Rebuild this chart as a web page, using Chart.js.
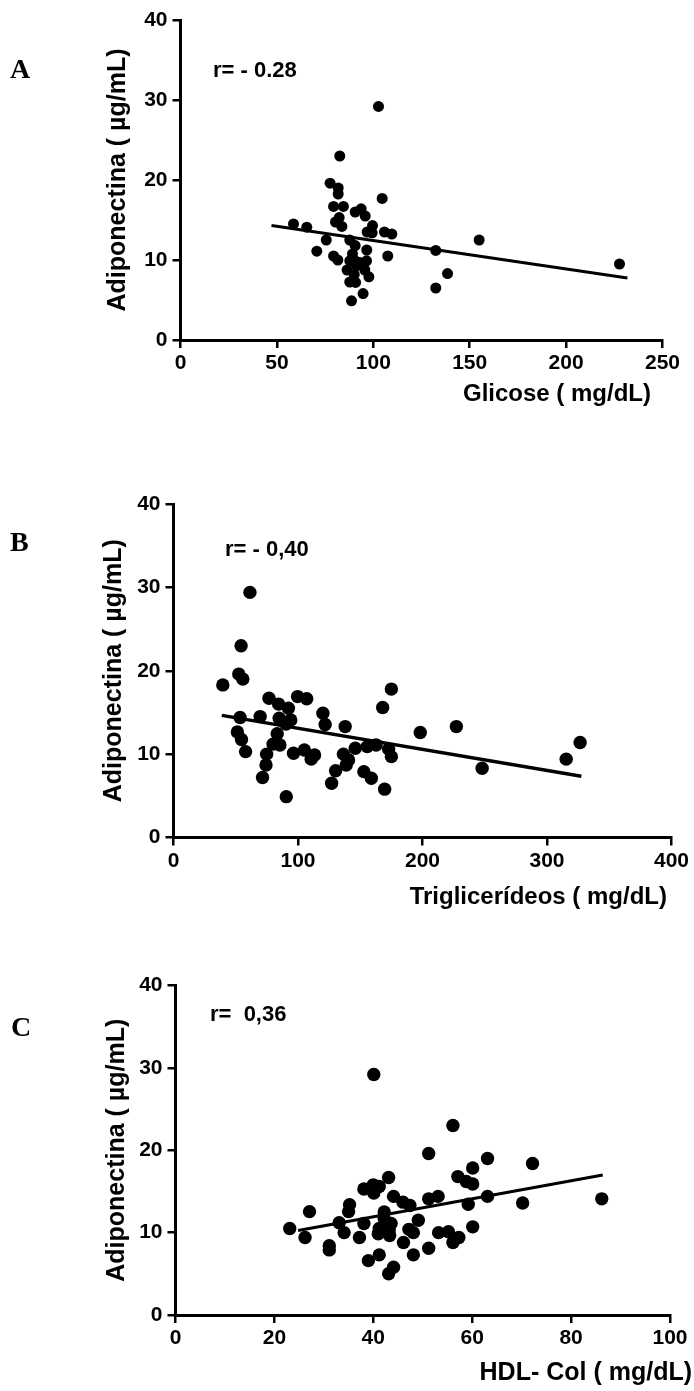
<!DOCTYPE html>
<html>
<head>
<meta charset="utf-8">
<script src="https://cdn.jsdelivr.net/npm/chart.js@4.4.0/dist/chart.umd.min.js"></script>
<style>
  body { margin: 0; background: #fff; }
  #page { position: relative; width: 694px; height: 1391px; overflow: hidden; background: #fff; }
  canvas { position: absolute; left: 0; }
  .txt { position: absolute; font-family: "Liberation Sans", Arial, sans-serif; font-weight: bold; color: #000; white-space: pre; line-height: 1; transform: translateY(-50%); }
  .letter { position: absolute; font-family: "Liberation Serif", "Times New Roman", serif; font-weight: bold; font-size: 28px; color: #000; line-height: 1; transform: translateY(-50%); }
  .xt { text-align: right; }
</style>
</head>
<body>
<div id="page">
  <canvas id="chartA" width="694" height="440" style="top:0px"></canvas>
  <canvas id="chartB" width="694" height="460" style="top:460px"></canvas>
  <canvas id="chartC" width="694" height="451" style="top:940px"></canvas>

  <div class="letter" style="left:10px; top:69px">A</div>
  <div class="letter" style="left:10px; top:542px">B</div>
  <div class="letter" style="left:11px; top:1027px">C</div>

  <div class="txt" style="left:213px; top:70px; font-size:22px">r= - 0.28</div>
  <div class="txt" style="left:225px; top:549px; font-size:22px">r= - 0,40</div>
  <div class="txt" style="left:210px; top:1014px; font-size:22px">r=  0,36</div>

  <div class="txt xt" style="right:43px; top:393px; font-size:24px">Glicose ( mg/dL)</div>
  <div class="txt xt" style="right:27px; top:896px; font-size:24px">Triglicerídeos ( mg/dL)</div>
  <div class="txt xt" style="right:2px; top:1371px; font-size:25px">HDL- Col ( mg/dL)</div>
</div>
<script>
/* ---- values ---- */

// A: glicose vs adiponectina
const glicose = [102.7, 82.6, 77.6, 81.8, 81.8, 104.6, 79.4, 84.5, 90.6, 93.7, 95.8, 82.3, 80.4, 83.7, 58.6, 65.5,
  99.6, 96.8, 99.4, 105.8, 109.6, 75.6, 87.8, 154.9, 90.6, 96.6, 132.4, 70.7, 79.4, 81.6, 107.5, 89.2,
  87.8, 90.6, 93.0, 96.5, 91.3, 86.4, 95.6, 90.1, 97.7, 87.8, 90.8, 227.7, 138.5, 132.4, 94.7, 88.7];
const adipoA = [29.2, 23.0, 19.6, 19.0, 18.25, 17.7, 16.7, 16.7, 16.0, 16.4, 15.5, 15.3, 14.75, 14.2, 14.5, 14.1,
  14.3, 13.5, 13.4, 13.5, 13.25, 12.5, 12.5, 12.5, 11.8, 11.25, 11.2, 11.1, 10.5, 10.0, 10.5, 10.75,
  9.9, 9.9, 9.7, 9.9, 9.3, 8.75, 8.75, 8.2, 7.9, 7.25, 7.2, 9.5, 8.3, 6.5, 5.8, 4.9];
const fitXA = [47.2, 231.8];
const fitYA = [14.3, 7.75];

// B: triglicerideos vs adiponectina
const triglic = [61.4, 54.3, 52.4, 55.7, 39.6, 175.0, 76.7, 99.7, 107.0, 84.4, 92.3, 168.0, 120.0, 53.5, 69.6, 84.9,
  94.2, 90.4, 121.8, 137.9, 227.2, 51.3, 83.3, 198.2, 54.6, 326.6, 80.0, 85.5, 146.0, 155.6, 162.7, 172.8,
  57.9, 74.8, 96.4, 105.1, 113.3, 136.5, 175.0, 110.6, 140.6, 315.4, 74.3, 138.7, 130.2, 152.9, 247.9, 71.5,
  158.9, 127.0, 169.6, 90.6];
const adipoB = [29.4, 23.0, 19.6, 19.0, 18.3, 17.8, 16.7, 16.9, 16.65, 16.0, 15.5, 15.6, 14.9, 14.4, 14.5, 14.3,
  14.1, 13.6, 13.55, 13.3, 13.3, 12.65, 12.45, 12.6, 11.75, 11.4, 11.2, 11.1, 10.7, 10.9, 11.1, 10.6,
  10.3, 10.0, 10.1, 10.5, 9.9, 10.0, 9.7, 9.4, 9.3, 9.4, 8.7, 8.7, 8.0, 7.9, 8.3, 7.2,
  7.1, 6.5, 5.8, 4.9];
const fitXB = [38.8, 327.6];
const fitYB = [14.65, 7.35];

// C: HDL-col vs adiponectina
const hdl = [40.1, 56.1, 51.2, 63.1, 72.2, 60.1, 43.1, 57.1, 58.8, 60.1, 40.0, 41.2, 38.1, 40.1, 44.1, 63.1,
  51.2, 53.1, 86.2, 70.2, 46.0, 47.4, 59.2, 35.2, 35.0, 27.1, 42.2, 42.2, 49.1, 33.1, 38.1, 43.6,
  23.1, 41.2, 47.2, 60.1, 43.2, 48.1, 34.1, 53.2, 55.2, 41.0, 43.3, 26.2, 37.2, 57.3, 56.1, 46.1,
  31.1, 31.1, 51.2, 41.2, 48.1, 39.0, 44.1, 43.1];
const adipoC = [29.2, 23.0, 19.6, 19.0, 18.4, 17.85, 16.7, 16.8, 16.2, 15.9, 15.8, 15.6, 15.3, 14.8, 14.4, 14.4,
  14.1, 14.4, 14.1, 13.6, 13.7, 13.3, 13.45, 13.4, 12.55, 12.55, 12.5, 11.7, 11.5, 11.2, 11.1, 11.1,
  10.5, 10.5, 10.4, 10.7, 10.3, 10.0, 10.0, 10.0, 10.1, 9.85, 9.65, 9.4, 9.4, 9.4, 8.8, 8.8,
  8.4, 7.9, 8.1, 7.3, 7.3, 6.6, 5.8, 5.0];
const fitXC = [24.8, 86.4];
const fitYC = [10.25, 17.0];

// tick labels
const yTicks = [0, 10, 20, 30, 40];
const xTicksA = [0, 50, 100, 150, 200, 250];
const xTicksB = [0, 100, 200, 300, 400];
const xTicksC = [0, 20, 40, 60, 80, 100];

const yTitle = "Adiponectina ( \u00b5g/mL)";

/* ---- helpers ---- */

const FONT = '"Liberation Sans", Arial, sans-serif';
const pts = (xs, ys) => xs.map((x, i) => ({ x: x, y: ys[i] }));

const axisStyle = () => ({
  grid: { display: true, drawOnChartArea: false, drawTicks: true, tickLength: 8, color: "#000", lineWidth: 2.5 },
  border: { display: true, color: "#000", width: 3 },
});

// p.area = chart area in page pixels, p.top = canvas top on the page
const makePanel = (p) => {
  const cv = document.getElementById(p.id);
  const areaTop = p.area.top - p.top;
  const areaBottom = p.area.bottom - p.top;
  return new Chart(cv.getContext("2d"), {
    type: "scatter",
    data: {
      datasets: [
        { data: pts(p.xs, p.ys), backgroundColor: "#000", borderColor: "#000", borderWidth: 0, pointRadius: p.dot, order: 1 },
        { data: pts(p.fitX, p.fitY), showLine: true, borderColor: "#000", borderWidth: p.lineW, pointRadius: 0, order: 2 },
      ],
    },
    options: {
      responsive: false,
      animation: false,
      events: [],
      layout: { padding: { left: p.titleLeft, right: 694 - p.area.right, top: areaTop, bottom: 0 } },
      plugins: { legend: { display: false }, tooltip: { enabled: false } },
      scales: {
        x: {
          type: "linear",
          min: p.xTicks[0],
          max: p.xTicks[p.xTicks.length - 1],
          afterBuildTicks: (s) => { s.ticks = p.xTicks.map((v) => ({ value: v })); },
          afterFit: (s) => { s.height = cv.height - areaBottom; },
          ...axisStyle(),
          ticks: { color: "#000", font: { family: FONT, size: 21, weight: "bold" }, padding: 3, maxRotation: 0, autoSkip: false },
        },
        y: {
          type: "linear",
          min: yTicks[0],
          max: yTicks[yTicks.length - 1],
          afterBuildTicks: (s) => { s.ticks = yTicks.map((v) => ({ value: v })); },
          afterFit: (s) => { s.width = p.area.left - p.titleLeft; },
          ...axisStyle(),
          ticks: { color: "#000", font: { family: FONT, size: 21, weight: "bold" }, padding: 5 },
          title: { display: true, text: yTitle, color: "#000", font: { family: FONT, size: 25, weight: "bold" }, padding: 0 },
        },
      },
    },
  });
};

/* ---- panels ---- */

makePanel({ id: "chartA", top: 0, area: { left: 180.5, right: 662.5, top: 20, bottom: 340 }, titleLeft: 103,
  xs: glicose, ys: adipoA, fitX: fitXA, fitY: fitYA, xTicks: xTicksA, dot: 5.5, lineW: 3 });

makePanel({ id: "chartB", top: 460, area: { left: 173.5, right: 671.5, top: 504, bottom: 837.5 }, titleLeft: 99,
  xs: triglic, ys: adipoB, fitX: fitXB, fitY: fitYB, xTicks: xTicksB, dot: 6.7, lineW: 3.5 });

makePanel({ id: "chartC", top: 940, area: { left: 175.5, right: 670, top: 985.5, bottom: 1315 }, titleLeft: 102,
  xs: hdl, ys: adipoC, fitX: fitXC, fitY: fitYC, xTicks: xTicksC, dot: 6.7, lineW: 3 });
</script>
</body>
</html>
